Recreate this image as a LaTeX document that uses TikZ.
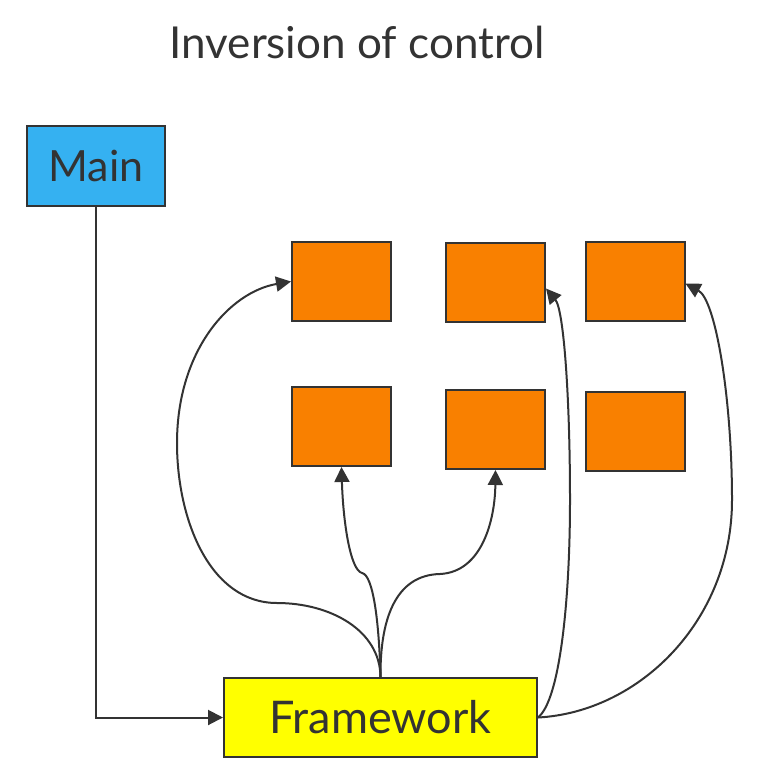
\documentclass[tikz,border=0pt]{standalone}
\usepackage{fontspec}
\setmainfont{Lato}
\usepackage{xcolor}
\usepackage{tikz}
\usetikzlibrary{arrows.meta}

\definecolor{ink}{HTML}{333333}
\definecolor{mainblue}{HTML}{35B1F1}
\definecolor{taskorange}{HTML}{F98000}
\definecolor{fwyellow}{HTML}{FFFF00}

\begin{document}
\begin{tikzpicture}[x=1pt, y=-1pt,
    >={Triangle[length=15pt, width=15pt]},
    box/.style={draw=ink, line width=2pt, inner sep=0pt, text=ink,
        font=\fontsize{43}{48}\selectfont},
    task/.style={box, fill=taskorange, minimum width=99pt, minimum height=79pt},
    link/.style={->, draw=ink, line width=2pt}]
    \useasboundingbox (0,0) rectangle (766,778);

    % Tieu de
    \node[text=ink, font=\fontsize{44}{50}\selectfont] (title) at (357,42) {Inversion of control};

    % Cac khoi chinh
    \node[box, fill=mainblue, minimum width=138pt, minimum height=80pt] (main) at (96,166) {Main};
    \node[box, fill=fwyellow, minimum width=313pt, minimum height=79pt,
        font=\fontsize{45}{50}\selectfont] (fw) at (380.5,717.5) {Framework};

    % Cac khoi cam
    \node[task] (a1) at (341.5,281.5) {};
    \node[task] (a2) at (495.5,282.5) {};
    \node[task] (a3) at (635,281.5) {};
    \node[task] (b1) at (341.5,426.5) {};
    \node[task] (b2) at (495.5,429.5) {};
    \node[task] (b3) at (635,431.5) {};

    % Main goi Framework
    \draw[link] (main.south) |- (fw.west);

    % Framework goi cac khoi
    \draw[link] (fw.north) .. controls (380,630) and (330,603) .. (277,603)
        .. controls (210,603) and (177,520) .. (177,443)
        .. controls (177,350) and (230,292) .. (a1.west);
    \draw[link] (fw.north) .. controls (379,620) and (373,575) .. (362,573)
        .. controls (350,570) and (343,520) .. (b1.south);
    \draw[link] (fw.north) .. controls (380,620) and (395,575) .. (440,574)
        .. controls (482,572) and (495,520) .. (b2.south);
    \draw[link] (fw.east) .. controls (560,700) and (570,600) .. (570,500)
        .. controls (570,400) and (564,310) .. ([yshift=-6pt]a2.east);
    \draw[link] (fw.east) .. controls (640,712) and (732,620) .. (732,500)
        .. controls (732,400) and (716,300) .. ([yshift=-2pt]a3.east);
\end{tikzpicture}
\end{document}
